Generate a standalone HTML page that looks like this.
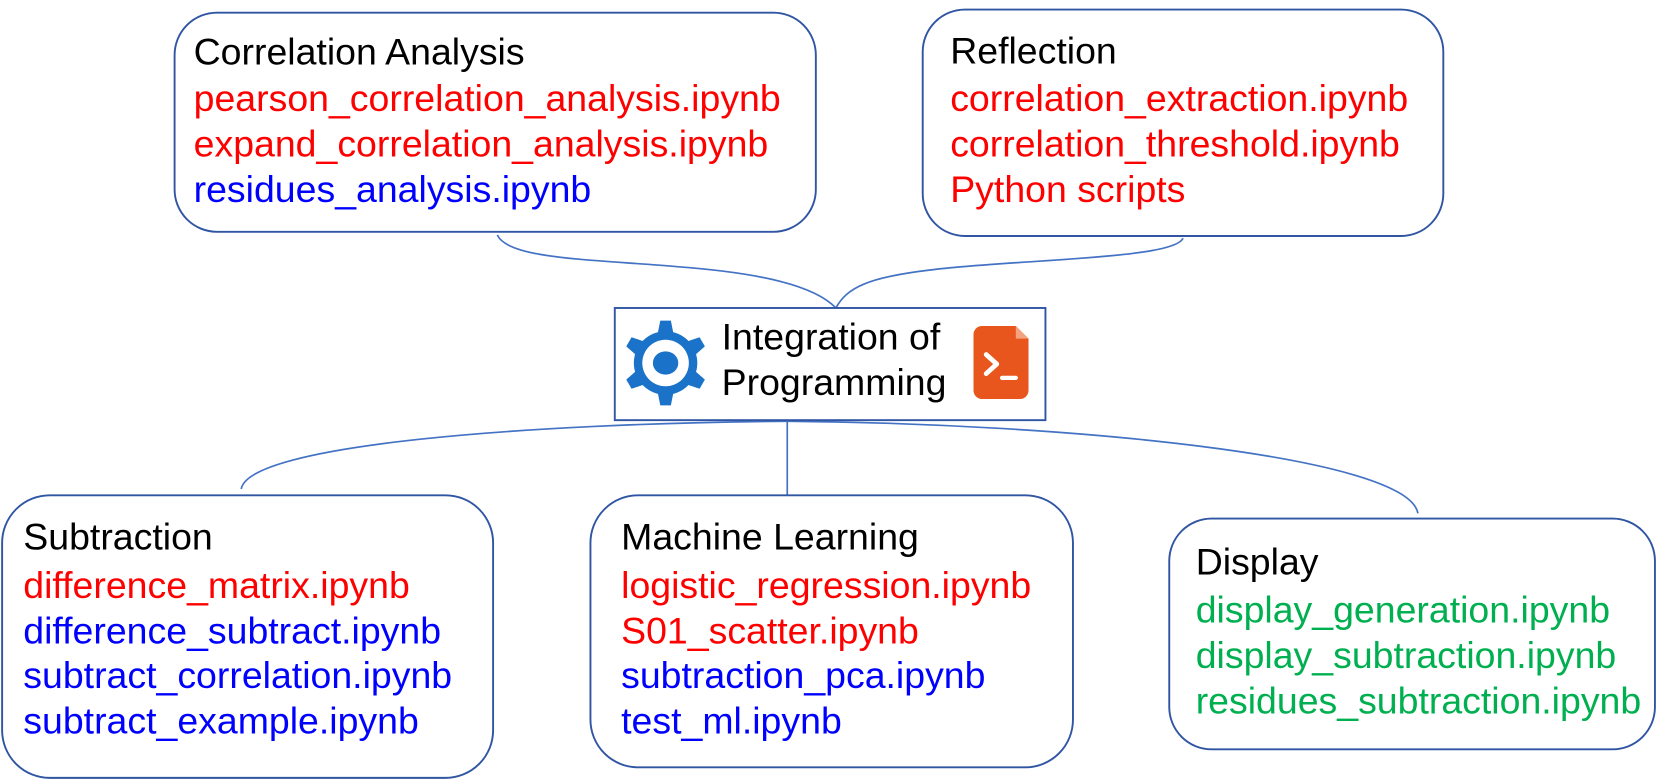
<!DOCTYPE html>
<html><head><meta charset="utf-8"><style>
html,body{margin:0;padding:0;background:#fff;}
svg{display:block;}
text{font-family:"Liberation Sans",Arial,sans-serif;font-size:35.4px;}
.k{fill:#000}.r{fill:#ff0000}.b{fill:#0000ff}.g{fill:#00b050}
.box{fill:#fff;stroke:#2f55a3;stroke-width:1.8}
.c{fill:none;stroke:#4472c4;stroke-width:1.6}
</style></head><body>
<svg width="1656" height="780" viewBox="0 0 1565 737" preserveAspectRatio="none">
<path class="c" d="M470,222 C480,245 560,245 640,252 C720,258 770,270 790,291"/>
<path class="c" d="M1118,225 C1110,245 960,245 880,255 C820,262 800,272 790,291"/>
<path class="c" d="M228,462 C235,420 500,400 744,398 C1000,400 1330,430 1340,485"/>
<path class="c" d="M744,398 L744,470"/>

<rect class="box" x="165" y="12" width="606" height="207" rx="40"/>
<text x="183" y="61" class="k">Correlation Analysis</text>
<text x="183" y="105" class="r">pearson_correlation_analysis.ipynb</text>
<text x="183" y="148" class="r">expand_correlation_analysis.ipynb</text>
<text x="183" y="191" class="b">residues_analysis.ipynb</text>

<rect class="box" x="872" y="9" width="492" height="214" rx="40"/>
<text x="898" y="60" class="k">Reflection</text>
<text x="898" y="105" class="r">correlation_extraction.ipynb</text>
<text x="898" y="148" class="r">correlation_threshold.ipynb</text>
<text x="898" y="191" class="r">Python scripts</text>

<rect class="box" x="581" y="291" width="407" height="106"/>
<text x="682" y="330" class="k">Integration of</text>
<text x="682" y="373" class="k">Programming</text>
<g transform="translate(629,343)" fill="#1a73c8">
  <g>
    <path d="M-5,-40 H5 L9,-20 H-9 Z"/>
    <path d="M-5,-40 H5 L9,-20 H-9 Z" transform="rotate(60)"/>
    <path d="M-5,-40 H5 L9,-20 H-9 Z" transform="rotate(120)"/>
    <path d="M-5,-40 H5 L9,-20 H-9 Z" transform="rotate(180)"/>
    <path d="M-5,-40 H5 L9,-20 H-9 Z" transform="rotate(240)"/>
    <path d="M-5,-40 H5 L9,-20 H-9 Z" transform="rotate(300)"/>
  </g>
  <circle r="30"/>
  <circle r="22" fill="#fff"/>
  <ellipse rx="12" ry="11"/>
</g>
<g transform="translate(920,308)">
  <path d="M8,0 H40 L52,12 V61 a8,8 0 0 1 -8,8 H8 a8,8 0 0 1 -8,-8 V8 a8,8 0 0 1 8,-8 Z" fill="#e8561e"/>
  <path d="M40,0 V12 H52" fill="#f4a27f"/>
  <path d="M12,27 L22,36 L12,45" fill="none" stroke="#fff" stroke-width="4.5" stroke-linecap="round" stroke-linejoin="round"/>
  <path d="M27,49 H40" stroke="#fff" stroke-width="4" stroke-linecap="round"/>
</g>

<rect class="box" x="2" y="468" width="464" height="267" rx="45"/>
<text x="22" y="519" class="k">Subtraction</text>
<text x="22" y="565" class="r">difference_matrix.ipynb</text>
<text x="22" y="608" class="b">difference_subtract.ipynb</text>
<text x="22" y="650" class="b">subtract_correlation.ipynb</text>
<text x="22" y="693" class="b">subtract_example.ipynb</text>

<rect class="box" x="558" y="468" width="456" height="257" rx="45"/>
<text x="587" y="519" class="k">Machine Learning</text>
<text x="587" y="565" class="r">logistic_regression.ipynb</text>
<text x="587" y="608" class="r">S01_scatter.ipynb</text>
<text x="587" y="650" class="b">subtraction_pca.ipynb</text>
<text x="587" y="693" class="b">test_ml.ipynb</text>

<rect class="box" x="1105" y="490" width="459" height="218" rx="40"/>
<text x="1130" y="543" class="k">Display</text>
<text x="1130" y="588" class="g">display_generation.ipynb</text>
<text x="1130" y="631" class="g">display_subtraction.ipynb</text>
<text x="1130" y="674" class="g">residues_subtraction.ipynb</text>
</svg>
</body></html>
